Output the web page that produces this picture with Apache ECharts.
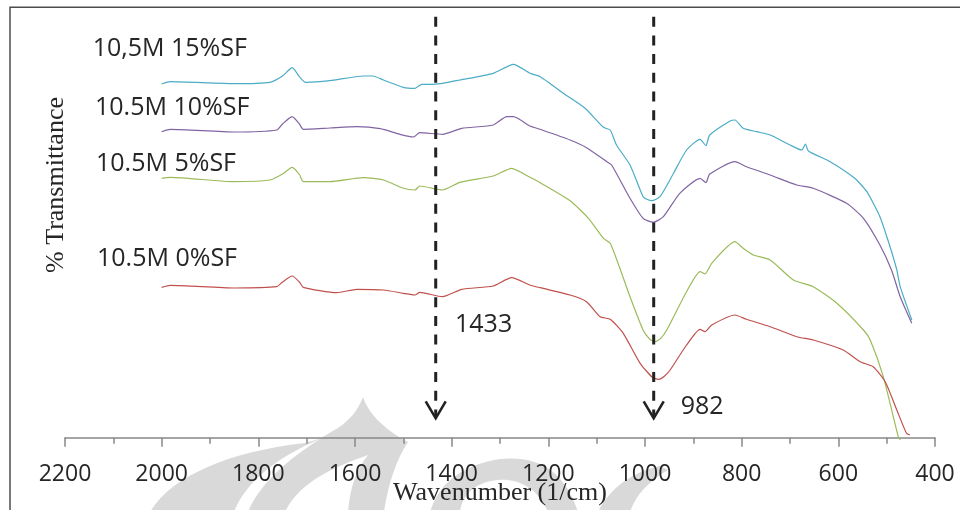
<!DOCTYPE html>
<html>
<head>
<meta charset="utf-8">
<script src="https://cdn.jsdelivr.net/npm/echarts@6/dist/echarts.min.js"></script>
<style>
  html, body { margin: 0; padding: 0; background: #fff; }
  #chart { width: 960px; height: 510px; }
</style>
</head>
<body>
<div id="chart"></div>
<script>
// FTIR spectra (offset, arbitrary transmittance units) of 10.5M samples with SF content
const sf15Wn = [2000,1982,1850,1776,1750,1730,1715,1703,1652,1583,1563,1541,1500,1476,1462,1445,1419,1383,1314,1272,1238,1217,1197,1169,1124,1086,1072,1059,1031,1004,995,986,969,941,914,886,874,866,824,814,797,769,741,700,676,668,662,617,566,541,514,493,479,472,448];
const sf15T  = [353.7,356.0,354.0,355.4,361.7,370.0,361.0,355.4,357.0,361.7,361.7,357.7,350.4,349.4,353.4,353.4,354.4,357.7,364.4,373.4,364.4,361.0,354.4,344.4,329.4,310.4,307.7,292.7,272.7,241.0,238.2,237.0,241.0,264.4,287.7,298.4,292.0,302.7,316.7,317.7,309.4,306.0,302.7,292.7,287.7,293.7,286.7,276.0,259.4,246.0,221.0,191.0,167.7,151.0,117.7];

const sf10Wn = [2000,1982,1850,1762,1750,1730,1715,1707,1652,1596,1548,1507,1479,1466,1419,1379,1314,1286,1272,1238,1217,1155,1121,1079,1069,1031,1004,983,962,928,886,874,866,814,790,741,686,652,583,548,514,490,472,448];
const sf10T  = [306.0,308.4,305.7,307.7,313.7,321.0,313.7,308.4,309.7,311.0,309.0,303.4,300.7,305.0,303.4,309.4,312.7,321.0,321.0,311.7,308.4,297.7,290.0,276.0,272.7,239.4,219.4,215.4,221.0,244.4,259.4,255.0,263.7,276.0,271.0,262.7,252.7,249.4,234.4,219.4,192.7,167.7,141.0,114.4];

const sf5Wn = [2000,1982,1850,1776,1750,1730,1715,1707,1652,1583,1541,1500,1476,1466,1419,1383,1314,1276,1238,1217,1155,1117,1086,1072,1052,1031,1004,990,979,968,955,914,886,876,862,814,797,776,741,693,652,603,548,534,507,476,472];
const sf5T  = [259.4,260.4,256.0,257.7,263.7,270.4,263.2,256.0,256.0,260.0,257.7,249.4,247.7,251.7,247.7,255.4,261.7,269.4,260.4,255.0,237.0,219.4,199.4,194.4,169.4,141.0,107.7,98.5,96.0,99.0,107.7,146.0,166.0,163.7,174.4,196.0,189.4,182.7,177.7,157.7,151.0,134.4,107.7,97.7,61.0,1.0,-2.3];

const sf0Wn = [2000,1982,1850,1762,1750,1730,1715,1707,1638,1596,1541,1500,1476,1466,1419,1379,1314,1276,1238,1217,1155,1121,1093,1072,1045,1010,985,972,960,948,914,886,876,862,814,790,741,686,652,590,555,528,503,479,459,452];
const sf0T  = [150.4,152.4,149.7,151.0,155.7,161.7,155.7,150.4,145.0,148.4,147.7,144.4,142.7,145.4,141.0,148.4,151.7,160.0,152.7,150.0,142.7,136.0,121.0,118.4,104.4,74.4,60.5,58.4,61.5,67.7,92.7,108.4,106.0,112.7,122.7,118.4,111.0,101.0,97.7,87.7,76.0,71.0,56.0,27.7,4.4,2.7];

const seriesNames  = ['10,5M 15%SF', '10.5M 10%SF', '10.5M 5%SF', '10.5M 0%SF'];
const seriesColors = ['#4bacc6', '#8064a2', '#9bbb59', '#c0504d'];

// Marked absorption bands (cm-1) and the vertical extent of their arrows
const bandValues = [1433, 982];
const bandLabels = ['1433', '982'];
const arrowTop = 421;
const arrowTip = 19.4;

const xTicks = { min: 400, max: 2200, step: 200 };

function zip(xs, ys) { return xs.map((x, i) => [x, ys[i]]); }

const spectra = [zip(sf15Wn, sf15T), zip(sf10Wn, sf10T), zip(sf5Wn, sf5T), zip(sf0Wn, sf0T)];

const chart = echarts.init(document.getElementById('chart'), null, { renderer: 'canvas' });

const lineSeries = spectra.map((d, i) => ({
  name: seriesNames[i],
  type: 'line',
  data: d,
  showSymbol: false,
  smooth: 0.2,
  clip: false,
  lineStyle: { color: seriesColors[i], width: 1.2 },
  z: 3
}));

const arrowSeries = {
  type: 'custom',
  data: bandValues.map(v => [v, arrowTop, arrowTip]),
  clip: false,
  z: 4,
  renderItem: function (params, api) {
    const top = api.coord([api.value(0), api.value(1)]);
    const tip = api.coord([api.value(0), api.value(2)]);
    return {
      type: 'group',
      children: [
        {
          type: 'line',
          shape: { x1: top[0], y1: top[1], x2: tip[0], y2: tip[1] - 2 },
          style: { stroke: '#222', lineWidth: 3, lineDash: [10, 8.7] }
        },
        {
          type: 'polyline',
          shape: { points: [[tip[0] - 10, tip[1] - 17], [tip[0], tip[1]], [tip[0] + 10, tip[1] - 17]] },
          style: { stroke: '#222', lineWidth: 2.6, fill: null }
        }
      ]
    };
  }
};

// faint emblem printed behind the plot
const watermarkPaths = [
  'M150,512 C170,478 225,452 305,443 L322,438 C275,458 246,482 234,512 Z',
  'M248,512 C262,478 300,450 338,428 C350,420 358,410 363,397 C368,412 382,428 408,442 C396,460 388,485 384,512 L348,512 C350,488 356,470 368,455 C340,465 300,480 285,512 Z',
  'M430,512 C440,482 462,465 500,459 C540,455 565,472 578,512 L548,512 C538,488 518,478 497,480 C472,483 462,497 460,512 Z',
  'M598,512 C610,488 632,472 660,466 L668,470 C648,482 636,495 630,512 Z'
];
const watermarkSeries = {
  type: 'custom',
  data: [[0, 0]],
  clip: false,
  silent: true,
  z: 0,
  renderItem: function () {
    return {
      type: 'group',
      children: watermarkPaths.map(p => ({
        type: 'path',
        shape: { pathData: p },
        style: { fill: '#d9d9d9' }
      }))
    };
  }
};

const textColor = '#262626';
const labelFont = '"Open Sans", "Noto Sans", sans-serif';

function label(text, left, yMid, size) {
  return {
    type: 'text', left: left, top: yMid - size * 0.68, z: 10,
    style: { text: text, fill: textColor, font: size + 'px ' + labelFont }
  };
}

chart.setOption({
  animation: false,
  grid: { left: 65, width: 870, top: 7.7, height: 430 },
  xAxis: {
    type: 'value',
    inverse: true,
    min: xTicks.min,
    max: xTicks.max,
    interval: xTicks.step,
    splitLine: { show: false },
    axisLine: { show: true, lineStyle: { color: '#888', width: 1.5 } },
    axisTick: { show: true, length: 9, lineStyle: { color: '#888', width: 1.5 } },
    minorTick: { show: true, splitNumber: 2, length: 6, lineStyle: { color: '#888', width: 1.5 } },
    axisLabel: {
      color: textColor, fontFamily: labelFont, fontSize: 23, margin: 25,
      formatter: v => String(v)
    }
  },
  yAxis: { type: 'value', min: 0, max: 430, show: false },
  series: [watermarkSeries].concat(lineSeries, [arrowSeries]),
  graphic: [
    { type: 'rect', z: 1, shape: { x: 10, y: 7.3, width: 1000, height: 600 }, style: { fill: null, stroke: '#4d4d4d', lineWidth: 1.5 } },
    label(seriesNames[0], 92.7, 53, 25),
    label(seriesNames[1], 95, 112, 25),
    label(seriesNames[2], 96, 168, 25),
    label(seriesNames[3], 97, 263, 25),
    label(bandLabels[0], 455, 329, 25),
    label(bandLabels[1], 680.7, 411, 25),
    {
      type: 'text', z: 10, x: 56, y: 185, rotation: Math.PI / 2,
      style: { text: '% Transmittance', fill: textColor, font: '26px "Liberation Serif", "Times New Roman", serif', textAlign: 'center', textVerticalAlign: 'middle' }
    },
    {
      type: 'text', z: 10, x: 500, y: 493,
      style: { text: 'Wavenumber (1/cm)', fill: textColor, font: '26px "Liberation Serif", "Times New Roman", serif', textAlign: 'center', textVerticalAlign: 'middle' }
    }
  ]
});
</script>
</body>
</html>
